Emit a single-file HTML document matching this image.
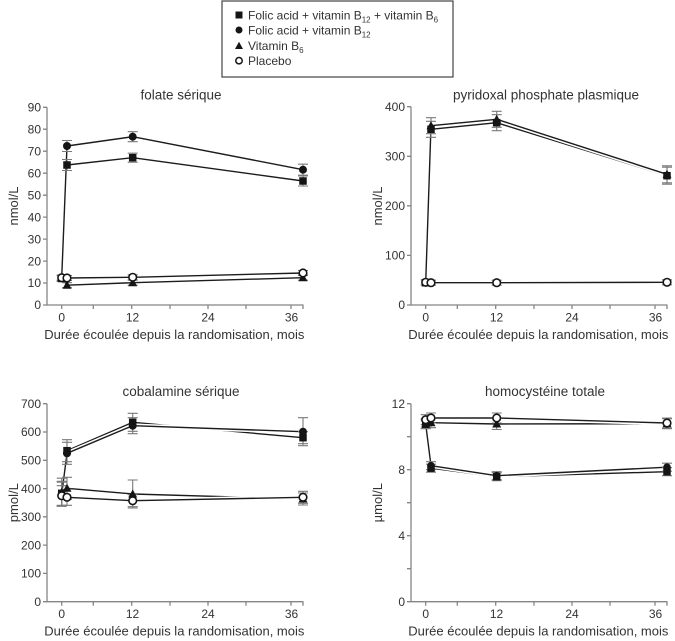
<!DOCTYPE html>
<html><head><meta charset="utf-8"><style>
html,body{margin:0;padding:0;background:#fff;}
svg{display:block;}
text{font-family:"Liberation Sans",Arial,sans-serif;fill:#333;}
.ax{fill:none;stroke:#858585;stroke-width:1.3;}
.halo{fill:none;stroke:#fff;stroke-width:4.5;stroke-linejoin:round;}
.ln{fill:none;stroke:#1c1c1c;stroke-width:1.4;stroke-linejoin:round;}
.eb{fill:none;stroke:#7a7a7a;stroke-width:1.1;}
.fm{fill:#151515;}
.om{fill:#fff;stroke:#151515;stroke-width:1.6;}
.tk{font-size:12px;}
.tt{font-size:13.5px;text-anchor:middle;}
.al{font-size:13px;text-anchor:middle;}
</style></head><body>
<svg width="675" height="641" viewBox="0 0 675 641" xmlns="http://www.w3.org/2000/svg">
<rect width="675" height="641" fill="#fff"/>

<!-- Legend -->
<rect x="222" y="1" width="231" height="76" fill="#fff" stroke="#444" stroke-width="1.2"/>
<rect x="235.5" y="11.5" width="7" height="7" class="fm"/>
<circle cx="239" cy="30" r="3.5" class="fm"/>
<polygon points="239,41.7 235,49 243,49" class="fm"/>
<circle cx="239" cy="60.7" r="3.2" class="om" style="stroke-width:1.5"/>
<text x="248" y="19.3" style="font-size:12px">Folic acid + vitamin B<tspan font-size="8" dy="3">12</tspan><tspan dy="-3"> + vitamin B</tspan><tspan font-size="8" dy="3">6</tspan></text>
<text x="248" y="34.3" style="font-size:12px">Folic acid + vitamin B<tspan font-size="8" dy="3">12</tspan></text>
<text x="248" y="50" style="font-size:12px">Vitamin B<tspan font-size="8" dy="3">6</tspan></text>
<text x="248" y="65" style="font-size:12px">Placebo</text>

<!-- ============ Panel 1: folate ============ -->
<g>
<text x="181" y="99.5" class="tt">folate sérique</text>
<path class="ax" d="M47,107.3V305H303.5"/>
<path class="ax" d="M43,305H47M43,283H47M43,261.1H47M43,239.1H47M43,217.1H47M43,195.2H47M43,173.2H47M43,151.2H47M43,129.2H47M43,107.3H47"/>
<path class="ax" d="M61.7,305v4M93.3,305v4M131.7,305v4M170,305v4M208,305v4M246,305v4M291,305v4M303,305v4"/>
<g class="tk" text-anchor="end">
<text x="41" y="309.2">0</text><text x="41" y="287.2">10</text><text x="41" y="265.3">20</text><text x="41" y="243.3">30</text><text x="41" y="221.3">40</text><text x="41" y="199.4">50</text><text x="41" y="177.4">60</text><text x="41" y="155.4">70</text><text x="41" y="133.4">80</text><text x="41" y="111.5">90</text>
</g>
<g class="tk" text-anchor="middle">
<text x="61.7" y="321.5">0</text><text x="132.5" y="321.5">12</text><text x="208" y="321.5">24</text><text x="291.5" y="321.5">36</text>
</g>
<text x="174.3" y="339" class="al">Durée écoulée depuis la randomisation, mois</text>
<text transform="translate(18,206) rotate(-90)" class="al">nmol/L</text>

<!-- lines -->
<polyline class="halo" points="61.7,278.5 67,165 132.7,157.7 303,181"/>
<polyline class="ln" points="61.7,278.5 67,165 132.7,157.7 303,181"/>
<polyline class="halo" points="61.7,278 67,146 132.7,136.7 303,169.7"/>
<polyline class="ln" points="61.7,278 67,146 132.7,136.7 303,169.7"/>
<polyline class="halo" points="61.7,277.7 67,285.2 132.7,282.7 303,277.7"/>
<polyline class="ln" points="61.7,277.7 67,285.2 132.7,282.7 303,277.7"/>
<polyline class="halo" points="61.7,277.7 67,278 132.7,277.3 303,273"/>
<polyline class="ln" points="61.7,277.7 67,278 132.7,277.3 303,273"/>
<!-- error bars -->
<path class="eb" d="M56.7,275.5h10M56.7,281.5h10M61.7,275.5v6M62,159.5h10M62,170.5h10M67,159.5v11M127.7,153.2h10M127.7,162.2h10M132.7,153.2v9M298,176h10M298,186h10M303,176v10"/>
<path class="eb" d="M56.7,275h10M56.7,281h10M61.7,275v6M62,140.5h10M62,151.5h10M67,140.5v11M127.7,131.7h10M127.7,141.7h10M132.7,131.7v10M298,164.2h10M298,175.2h10M303,164.2v11"/>
<path class="eb" d="M56.7,275.2h10M56.7,280.2h10M61.7,275.2v5M62,282.7h10M62,287.7h10M67,282.7v5M127.7,280.2h10M127.7,285.2h10M132.7,280.2v5M298,275.2h10M298,280.2h10M303,275.2v5"/>
<path class="eb" d="M62,275.5h10M62,280.5h10M67,275.5v5M127.7,274.8h10M127.7,279.8h10M132.7,274.8v5M298,270.5h10M298,275.5h10M303,270.5v5"/>
<!-- markers -->
<g class="fm"><rect x="57.95" y="274.75" width="7.5" height="7.5"/><rect x="63.25" y="161.25" width="7.5" height="7.5"/><rect x="128.95" y="153.95" width="7.5" height="7.5"/><rect x="299.25" y="177.25" width="7.5" height="7.5"/></g>
<g class="fm"><circle cx="61.7" cy="278" r="4"/><circle cx="67" cy="146" r="4"/><circle cx="132.7" cy="136.7" r="4"/><circle cx="303" cy="169.7" r="4"/></g>
<g class="fm"><polygon points="61.7,273.2 57.2,281.2 66.2,281.2"/><polygon points="67,280.7 62.5,288.7 71.5,288.7"/><polygon points="132.7,278.2 128.2,286.2 137.2,286.2"/><polygon points="303,273.2 298.5,281.2 307.5,281.2"/></g>
<g class="om"><circle cx="61.7" cy="277.7" r="3.8"/><circle cx="67" cy="278" r="3.8"/><circle cx="132.7" cy="277.3" r="3.8"/><circle cx="303" cy="273" r="3.8"/></g>
</g>

<!-- ============ Panel 2: pyridoxal ============ -->
<g transform="translate(364,0)">
<text x="182" y="99.5" class="tt">pyridoxal phosphate plasmique</text>
<path class="ax" d="M47,106.7V305H303.5"/>
<path class="ax" d="M43,305H47M43,255.4H47M43,205.8H47M43,156.3H47M43,106.7H47"/>
<path class="ax" d="M61.7,305v4M93.3,305v4M131.7,305v4M170,305v4M208,305v4M246,305v4M291,305v4M303,305v4"/>
<g class="tk" text-anchor="end">
<text x="41" y="309.2">0</text><text x="41" y="259.6">100</text><text x="41" y="210">200</text><text x="41" y="160.5">300</text><text x="41" y="110.9">400</text>
</g>
<g class="tk" text-anchor="middle">
<text x="61.7" y="321.5">0</text><text x="132.5" y="321.5">12</text><text x="208" y="321.5">24</text><text x="291.5" y="321.5">36</text>
</g>
<text x="174.3" y="339" class="al">Durée écoulée depuis la randomisation, mois</text>
<text transform="translate(18,206) rotate(-90)" class="al">nmol/L</text>

<!-- lines -->
<polyline class="halo" points="61.7,282.7 67,129.3 132.7,122.7 303,175.7"/>
<polyline class="ln" points="61.7,282.7 67,129.3 132.7,122.7 303,175.7"/>
<polyline class="halo" points="61.7,282.7 67,125.7 132.7,119.3 303,174.3"/>
<polyline class="ln" points="61.7,282.7 67,125.7 132.7,119.3 303,174.3"/>
<polyline class="halo" points="61.7,282.7 67,282.7 132.7,283 303,282.5"/>
<polyline class="ln" points="61.7,282.7 67,282.7 132.7,283 303,282.5"/>
<polyline class="halo" points="61.7,282.3 67,282.7 132.7,282.7 303,282.3"/>
<polyline class="ln" points="61.7,282.3 67,282.7 132.7,282.7 303,282.3"/>
<!-- error bars -->
<path class="eb" d="M62,121.3h10M62,137.3h10M67,121.3v16M127.7,114.7h10M127.7,130.7h10M132.7,114.7v16M298,167.2h10M298,184.2h10M303,167.2v17"/>
<path class="eb" d="M62,117.7h10M62,133.7h10M67,117.7v16M127.7,111.3h10M127.7,127.3h10M132.7,111.3v16M298,165.8h10M298,182.8h10M303,165.8v17"/>
<path class="eb" d="M56.7,279.8h10M56.7,284.8h10M61.7,279.8v5M62,280.2h10M62,285.2h10M67,280.2v5M127.7,280.2h10M127.7,285.2h10M132.7,280.2v5M298,279.8h10M298,284.8h10M303,279.8v5"/>
<!-- markers -->
<g class="fm"><rect x="57.95" y="278.95" width="7.5" height="7.5"/><rect x="63.25" y="125.55" width="7.5" height="7.5"/><rect x="128.95" y="118.95" width="7.5" height="7.5"/><rect x="299.25" y="171.95" width="7.5" height="7.5"/></g>
<g class="fm"><polygon points="61.7,278.2 57.2,286.2 66.2,286.2"/><polygon points="67,121.2 62.5,129.2 71.5,129.2"/><polygon points="132.7,114.8 128.2,122.8 137.2,122.8"/><polygon points="303,169.8 298.5,177.8 307.5,177.8"/></g>
<g class="fm"><circle cx="61.7" cy="282.7" r="4"/><circle cx="67" cy="282.7" r="4"/><circle cx="132.7" cy="283" r="4"/><circle cx="303" cy="282.5" r="4"/></g>
<g class="om"><circle cx="61.7" cy="282.3" r="3.8"/><circle cx="67" cy="282.7" r="3.8"/><circle cx="132.7" cy="282.7" r="3.8"/><circle cx="303" cy="282.3" r="3.8"/></g>
</g>

<!-- ============ Panel 3: cobalamine ============ -->
<g transform="translate(0,296.7)">
<text x="181" y="99.5" class="tt">cobalamine sérique</text>
<path class="ax" d="M47,107V305H303.5"/>
<path class="ax" d="M43,305H47M43,276.7H47M43,248.4H47M43,220.1H47M43,191.9H47M43,163.6H47M43,135.3H47M43,107H47"/>
<path class="ax" d="M61.7,305v4M93.3,305v4M131.7,305v4M170,305v4M208,305v4M246,305v4M291,305v4M303,305v4"/>
<g class="tk" text-anchor="end">
<text x="41" y="309.2">0</text><text x="41" y="280.9">100</text><text x="41" y="252.6">200</text><text x="41" y="224.3">300</text><text x="41" y="196.1">400</text><text x="41" y="167.8">500</text><text x="41" y="139.5">600</text><text x="41" y="111.2">700</text>
</g>
<g class="tk" text-anchor="middle">
<text x="61.7" y="321.5">0</text><text x="132.5" y="321.5">12</text><text x="208" y="321.5">24</text><text x="291.5" y="321.5">36</text>
</g>
<text x="174.3" y="339" class="al">Durée écoulée depuis la randomisation, mois</text>
<text transform="translate(18,206) rotate(-90)" class="al">pmol/L</text>

<!-- lines -->
<polyline class="halo" points="61.7,196.6 67,154 132.7,125.6 303,141"/>
<polyline class="ln" points="61.7,196.6 67,154 132.7,125.6 303,141"/>
<polyline class="halo" points="61.7,197.5 67,156.6 132.7,129 303,135"/>
<polyline class="ln" points="61.7,197.5 67,156.6 132.7,129 303,135"/>
<polyline class="halo" points="61.7,195.5 67,191.6 132.7,197.3 303,202.3"/>
<polyline class="ln" points="61.7,195.5 67,191.6 132.7,197.3 303,202.3"/>
<polyline class="halo" points="61.7,199 67,200.6 132.7,204 303,200.6"/>
<polyline class="ln" points="61.7,199 67,200.6 132.7,204 303,200.6"/>
<!-- error bars -->
<path class="eb" d="M56.7,184.6h10M56.7,208.6h10M61.7,184.6v24M62,143h10M62,165h10M67,143v22M127.7,116.6h10M127.7,134.6h10M132.7,116.6v18M298,135h10M298,147h10M303,135v12"/>
<path class="eb" d="M56.7,185.5h10M56.7,209.5h10M61.7,185.5v24M62,145.6h10M62,167.6h10M67,145.6v22M127.7,121h10M127.7,137h10M132.7,121v16M298,121h10M298,149h10M303,121v28"/>
<path class="eb" d="M56.7,181.5h10M56.7,209.5h10M61.7,181.5v28M62,180.6h10M62,202.6h10M67,180.6v22M127.7,183.3h10M127.7,211.3h10M132.7,183.3v28M298,196.3h10M298,208.3h10M303,196.3v12"/>
<path class="eb" d="M56.7,189h10M56.7,209h10M61.7,189v20M62,192.6h10M62,208.6h10M67,192.6v16M127.7,198h10M127.7,210h10M132.7,198v12M298,194.6h10M298,206.6h10M303,194.6v12"/>
<!-- markers -->
<g class="fm"><rect x="57.95" y="192.85" width="7.5" height="7.5"/><rect x="63.25" y="150.25" width="7.5" height="7.5"/><rect x="128.95" y="121.85" width="7.5" height="7.5"/><rect x="299.25" y="137.25" width="7.5" height="7.5"/></g>
<g class="fm"><circle cx="61.7" cy="197.5" r="4"/><circle cx="67" cy="156.6" r="4"/><circle cx="132.7" cy="129" r="4"/><circle cx="303" cy="135" r="4"/></g>
<g class="fm"><polygon points="61.7,191 57.2,199 66.2,199"/><polygon points="67,187.1 62.5,195.1 71.5,195.1"/><polygon points="132.7,192.8 128.2,200.8 137.2,200.8"/><polygon points="303,197.8 298.5,205.8 307.5,205.8"/></g>
<g class="om"><circle cx="61.7" cy="199" r="3.8"/><circle cx="67" cy="200.6" r="3.8"/><circle cx="132.7" cy="204" r="3.8"/><circle cx="303" cy="200.6" r="3.8"/></g>
</g>

<!-- ============ Panel 4: homocysteine ============ -->
<g transform="translate(364,296.7)">
<text x="181" y="99.5" class="tt">homocystéine totale</text>
<path class="ax" d="M47,107V305H303.5"/>
<path class="ax" d="M43,305H47M43,272H47M43,239H47M43,206H47M43,173H47M43,140H47M43,107H47"/>
<path class="ax" d="M61.7,305v4M93.3,305v4M131.7,305v4M170,305v4M208,305v4M246,305v4M291,305v4M303,305v4"/>
<g class="tk" text-anchor="end">
<text x="41" y="309.2">0</text><text x="41" y="243.2">4</text><text x="41" y="177.2">8</text><text x="41" y="111.2">12</text>
</g>
<g class="tk" text-anchor="middle">
<text x="61.7" y="321.5">0</text><text x="132.5" y="321.5">12</text><text x="208" y="321.5">24</text><text x="291.5" y="321.5">36</text>
</g>
<text x="174.3" y="339" class="al">Durée écoulée depuis la randomisation, mois</text>
<text transform="translate(18,206) rotate(-90)" class="al">µmol/L</text>

<!-- lines -->
<polyline class="halo" points="61.7,127.5 67,171.5 132.7,180 303,175"/>
<polyline class="ln" points="61.7,127.5 67,171.5 132.7,180 303,175"/>
<polyline class="halo" points="61.7,127.5 67,169 132.7,179 303,170.5"/>
<polyline class="ln" points="61.7,127.5 67,169 132.7,179 303,170.5"/>
<polyline class="halo" points="61.7,127 67,126 132.7,127.3 303,127"/>
<polyline class="ln" points="61.7,127 67,126 132.7,127.3 303,127"/>
<polyline class="halo" points="61.7,123 67,121.3 132.7,121.3 303,126.3"/>
<polyline class="ln" points="61.7,123 67,121.3 132.7,121.3 303,126.3"/>
<!-- error bars -->
<path class="eb" d="M56.7,123.5h10M56.7,131.5h10M61.7,123.5v8M62,167.5h10M62,175.5h10M67,167.5v8M127.7,176h10M127.7,184h10M132.7,176v8M298,171h10M298,179h10M303,171v8"/>
<path class="eb" d="M62,165h10M62,173h10M67,165v8M127.7,175h10M127.7,183h10M132.7,175v8M298,166.5h10M298,174.5h10M303,166.5v8"/>
<path class="eb" d="M56.7,122h10M56.7,132h10M61.7,122v10M62,121h10M62,131h10M67,121v10M127.7,121.8h10M127.7,132.8h10M132.7,121.8v11M298,122h10M298,132h10M303,122v10"/>
<path class="eb" d="M56.7,118h10M56.7,128h10M61.7,118v10M62,116.3h10M62,126.3h10M67,116.3v10M127.7,116.3h10M127.7,126.3h10M132.7,116.3v10M298,121.3h10M298,131.3h10M303,121.3v10"/>
<!-- markers -->
<g class="fm"><rect x="57.95" y="123.75" width="7.5" height="7.5"/><rect x="63.25" y="167.75" width="7.5" height="7.5"/><rect x="128.95" y="176.25" width="7.5" height="7.5"/><rect x="299.25" y="171.25" width="7.5" height="7.5"/></g>
<g class="fm"><circle cx="61.7" cy="127.5" r="3.8"/><circle cx="67" cy="169" r="3.8"/><circle cx="132.7" cy="179" r="3.8"/><circle cx="303" cy="170.5" r="3.8"/></g>
<g class="fm"><polygon points="61.7,122.5 57.2,130.5 66.2,130.5"/><polygon points="67,121.5 62.5,129.5 71.5,129.5"/><polygon points="132.7,122.8 128.2,130.8 137.2,130.8"/><polygon points="303,122.5 298.5,130.5 307.5,130.5"/></g>
<g class="om"><circle cx="61.7" cy="123" r="3.8"/><circle cx="67" cy="121.3" r="3.8"/><circle cx="132.7" cy="121.3" r="3.8"/><circle cx="303" cy="126.3" r="3.8"/></g>
</g>
</svg>
</body></html>
